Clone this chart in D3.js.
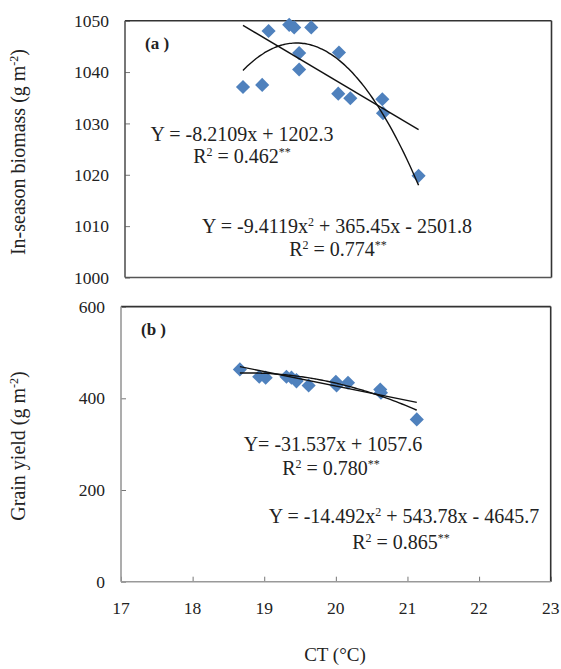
<!DOCTYPE html>
<html><head><meta charset="utf-8">
<script src="https://cdn.jsdelivr.net/npm/d3@7/dist/d3.min.js"></script>
<style>
body{margin:0;background:#fff;}
svg{display:block;font-family:"Liberation Serif","Times New Roman",serif;}
</style></head>
<body><svg id="c" width="561" height="669"></svg>
<script>
// ---- data ----
const ct = [18.66, 18.93, 19.02, 19.31, 19.38, 19.62, 19.45, 19.45, 20.01, 20.00, 20.17, 20.62, 20.63, 21.13];
const biomass = [1037.1, 1037.5, 1048.0, 1049.2, 1048.7, 1048.7, 1043.7, 1040.5, 1043.8, 1035.8, 1034.9, 1034.7, 1032.0, 1019.8];
const grain = [463, 447, 445, 447, 445, 428, 437, 440, 428, 436, 434, 419, 412, 354];
const xTicks = [17, 18, 19, 20, 21, 22, 23];
const yTicksA = [1000, 1010, 1020, 1030, 1040, 1050];
const yTicksB = [0, 200, 400, 600];
// trendline coefficients as printed on the chart
const linA = [-8.2109, 1202.3];
const quadA = [-9.4119, 365.45, -2501.8];
const linB = [-31.537, 1057.6];
const quadB = [-14.492, 543.78, -4645.7];

const svg = d3.select("#c");
const blue = "#4f81bd";

function panel(o) {
  const x = d3.scaleLinear().domain([17, 23]).range([o.l, o.r]);
  const y = d3.scaleLinear().domain(o.yDom).range([o.b, o.t]);
  const g = svg.append("g");
  const ya = d3.axisRight(y).tickValues(o.yTicks).tickSize(5).tickFormat("");
  g.append("g").attr("transform", `translate(${o.l},0)`).call(ya)
    .call(s => s.select(".domain").remove())
    .call(s => s.selectAll(".tick line").attr("stroke", "#777").attr("stroke-width", 1));
  g.selectAll(".ylab").data(o.yTicks).join("text")
    .attr("x", o.l - 16).attr("y", d => y(d)).attr("dy", "0.35em")
    .attr("text-anchor", "end").attr("font-size", 17.5).attr("fill", "#222")
    .text(d => d);
  if (o.xAxis) {
    const xa = d3.axisTop(x).tickValues(xTicks).tickSize(5).tickFormat("");
    g.append("g").attr("transform", `translate(0,${o.b})`).call(xa)
      .call(s => s.select(".domain").remove())
      .call(s => s.selectAll(".tick line").attr("stroke", "#777"));
    g.selectAll(".xlab").data(xTicks).join("text")
      .attr("x", d => x(d)).attr("y", o.b + 26).attr("dy", "0.35em")
      .attr("text-anchor", "middle").attr("font-size", 17.5).attr("fill", "#222")
      .text(d => d);
  }
  g.append("line").attr("x1", o.l).attr("x2", o.r).attr("y1", o.t).attr("y2", o.t).attr("stroke", "#333").attr("stroke-width", 1.6);
  g.append("line").attr("x1", o.r).attr("x2", o.r).attr("y1", o.t).attr("y2", o.b).attr("stroke", "#333").attr("stroke-width", 1.6);
  g.append("line").attr("x1", o.l).attr("x2", o.r).attr("y1", o.b).attr("y2", o.b).attr("stroke", o.axisCol).attr("stroke-width", 1.6);
  g.append("line").attr("x1", o.l).attr("x2", o.l).attr("y1", o.t).attr("y2", o.b).attr("stroke", o.axisCol).attr("stroke-width", 1.6);

  const sym = d3.symbol().type(d3.symbolSquare).size(100);
  g.selectAll(".pt").data(ct.map((c, i) => [c, o.vals[i]])).join("path")
    .attr("d", sym)
    .attr("transform", d => `translate(${x(d[0])},${y(d[1])}) rotate(45)`)
    .attr("fill", blue);

  const xmin = d3.min(ct), xmax = d3.max(ct);
  const line = d3.line().x(d => x(d[0])).y(d => y(d[1]));
  g.append("path").attr("d", line([[xmin, o.lin[0] * xmin + o.lin[1]], [xmax, o.lin[0] * xmax + o.lin[1]]]))
    .attr("fill", "none").attr("stroke", "#111").attr("stroke-width", 1.4);
  const q = o.quad;
  const qs = d3.range(xmin, xmax + 0.0001, (xmax - xmin) / 60).map(v => [v, q[0] * v * v + q[1] * v + q[2]]);
  g.append("path").attr("d", line.curve(d3.curveBasis)(qs))
    .attr("fill", "none").attr("stroke", "#111").attr("stroke-width", 1.4);

  g.append("text").attr("x", o.l + 20).attr("y", o.t + 28).attr("font-size", 17).attr("font-weight", "bold")
    .attr("fill", "#222").text(o.tag);
  return g;
}

// parts: strings are normal text, {sup:"..."} are superscripts
function richText(sel, parts, supSize, rise) {
  let off = 0;
  parts.forEach(p => {
    const isSup = typeof p !== "string";
    const target = isSup ? -rise : 0;
    const ts = sel.append("tspan").attr("dy", target - off).text(isSup ? p.sup : p);
    if (isSup) ts.attr("font-size", supSize);
    off = target;
  });
}
function eqText(g, cx, cy, parts) {
  const t = g.append("text").attr("x", cx).attr("y", cy).attr("text-anchor", "middle")
    .attr("font-size", 20).attr("fill", "#222");
  richText(t, parts, 12, 7);
  return t;
}

const ga = panel({l: 125, r: 551.5, t: 20.7, b: 277.5, yDom: [1000, 1050], yTicks: yTicksA,
  vals: biomass, lin: linA, quad: quadA, tag: "(a )", xAxis: false, axisCol: "#555"});
const gb = panel({l: 121, r: 550.7, t: 306.6, b: 581.7, yDom: [0, 600], yTicks: yTicksB,
  vals: grain, lin: linB, quad: quadB, tag: "(b )", xAxis: true, axisCol: "#999"});

eqText(ga, 242, 141, ["Y = -8.2109x + 1202.3"]);
eqText(ga, 242, 163, ["R", {sup: "2"}, " = 0.462", {sup: "**"}]);
eqText(ga, 337, 233, ["Y = -9.4119x", {sup: "2"}, " + 365.45x - 2501.8"]);
eqText(ga, 338, 256, ["R", {sup: "2"}, " = 0.774", {sup: "**"}]);

eqText(gb, 333, 451, ["Y= -31.537x + 1057.6"]);
eqText(gb, 331, 475, ["R", {sup: "2"}, " = 0.780", {sup: "**"}]);
eqText(gb, 404, 523, ["Y = -14.492x", {sup: "2"}, " + 543.78x - 4645.7"]);
eqText(gb, 401, 549, ["R", {sup: "2"}, " = 0.865", {sup: "**"}]);

function yTitle(cx, cy, main, sup) {
  const t = svg.append("text").attr("transform", `translate(${cx},${cy}) rotate(-90)`)
    .attr("text-anchor", "middle").attr("font-size", 20).attr("fill", "#222");
  richText(t, [main, {sup: sup}, ")"], 12, 7);
}
yTitle(25, 152, "In-season biomass (g m", "-2");
yTitle(25, 446, "Grain yield (g m", "-2");
svg.append("text").attr("x", 335).attr("y", 661).attr("text-anchor", "middle")
  .attr("font-size", 19).attr("fill", "#222").text("CT (°C)");
</script></body></html>
